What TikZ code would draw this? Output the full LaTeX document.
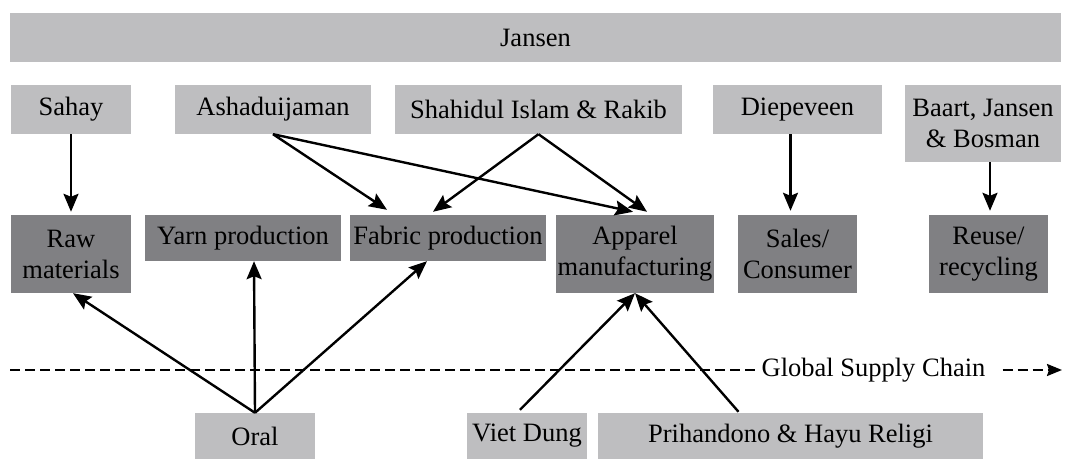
\documentclass[tikz,border=0pt]{standalone}
\usepackage{fontspec}
\setmainfont{Liberation Serif}
\newfontfamily\boxfont{Liberation Serif}
\usetikzlibrary{arrows.meta}
\definecolor{lightgrey}{HTML}{BEBEC0}
\definecolor{darkgrey}{HTML}{808083}

\begin{document}
\begin{tikzpicture}[
    x=1pt, y=1pt,
    lightbox/.style={rectangle, fill=lightgrey, inner sep=0pt, align=center, font=\boxfont\fontsize{26.5}{31}\selectfont},
    darkbox/.style={lightbox, fill=darkgrey},
    arrow/.style={-{Stealth[length=18pt, width=15pt, inset=3pt]}, line width=2.4pt},
    chain/.style={line width=2.2pt, dash pattern=on 10pt off 5pt}
]
\useasboundingbox (0,0) rectangle (1065,460);

% Jansen en haut
\node[lightbox, minimum width=1051pt, minimum height=49pt] (jansen) at (535.5,422.5) {Jansen};

% LIGNE 1 (auteurs)
\node[lightbox, minimum width=120pt, minimum height=49pt] (sahay) at (71,350.5) {Sahay};
\node[lightbox, minimum width=196pt, minimum height=49pt] (ashad) at (273,350.5) {Ashaduijaman};
\node[lightbox, minimum width=287pt, minimum height=49pt] (shahidul) at (538.5,350.5) {Shahidul Islam \& Rakib};
\node[lightbox, minimum width=169pt, minimum height=49pt] (diepeveen) at (797.5,350.5) {Diepeveen};
\node[lightbox, minimum width=156pt, minimum height=77pt] (baart) at (983,336.5) {Baart, Jansen\\\& Bosman};

% LIGNE 2 (etapes)
\node[darkbox, minimum width=120pt, minimum height=78pt] (raw) at (71,206) {Raw\\materials};
\node[darkbox, minimum width=196pt, minimum height=46pt] (yarn) at (243,222) {Yarn production};
\node[darkbox, minimum width=196pt, minimum height=46pt] (fabric) at (448,222) {Fabric production};
\node[darkbox, minimum width=158pt, minimum height=78pt] (apparel) at (635,206) {Apparel\\manufacturing};
\node[darkbox, minimum width=119pt, minimum height=78pt] (sales) at (797.5,206) {Sales/\\Consumer};
\node[darkbox, minimum width=119pt, minimum height=78pt] (reuse) at (988.5,206) {Reuse/\\recycling};

% LIGNE 3 (auteurs en bas)
\node[lightbox, minimum width=120pt, minimum height=46pt] (oral) at (255,24) {Oral};
\node[lightbox, minimum width=120pt, minimum height=46pt] (viet) at (527,24) {Viet Dung};
\node[lightbox, minimum width=385pt, minimum height=46pt] (prih) at (790.5,24) {Prihandono \& Hayu Religi};

% Global supply chain
\coordinate (chain start) at (10,90);
\coordinate (chain end) at (1062,90);
\node[font=\boxfont\fontsize{26.5}{31}\selectfont, inner sep=2pt] (gsc) at (873.5,90) {Global Supply Chain};
\draw[chain] (chain start) -- (gsc.west);
\draw[chain, -{Stealth[length=15pt, width=12pt, inset=2pt]}] ([xshift=15pt]gsc.east) -- (chain end);

% FLECHES du haut
\draw[arrow, shorten >=3pt] (sahay) -- (raw);
\draw[arrow] (ashad.south) -- ([xshift=-61pt, yshift=5pt]fabric.north);
\draw[arrow] (ashad.south) -- ([xshift=-2pt, yshift=3pt]apparel.north);
\draw[arrow] (shahidul.south) -- ([xshift=-15pt, yshift=3pt]fabric.north);
\draw[arrow] (shahidul.south) -- ([xshift=12pt, yshift=3pt]apparel.north);
\draw[arrow, shorten >=4pt] ([xshift=-7pt]diepeveen.south) -- ([xshift=-7pt]sales.north);
\draw[arrow, shorten >=4pt] ([xshift=7pt]baart.south) -- ([xshift=1.5pt]reuse.north);

% FLECHES du bas
\draw[arrow] (oral.north) -- ([xshift=2pt]raw.south);
\draw[arrow] (oral.north) -- ([xshift=11pt]yarn.south);
\draw[arrow] (oral.north) -- ([xshift=-21pt]fabric.south);
\draw[arrow] ([xshift=-7pt, yshift=3pt]viet.north) -- (apparel.south);
\draw[arrow] ([xshift=-52pt, yshift=1pt]prih.north) -- (apparel.south);

\end{tikzpicture}
\end{document}
